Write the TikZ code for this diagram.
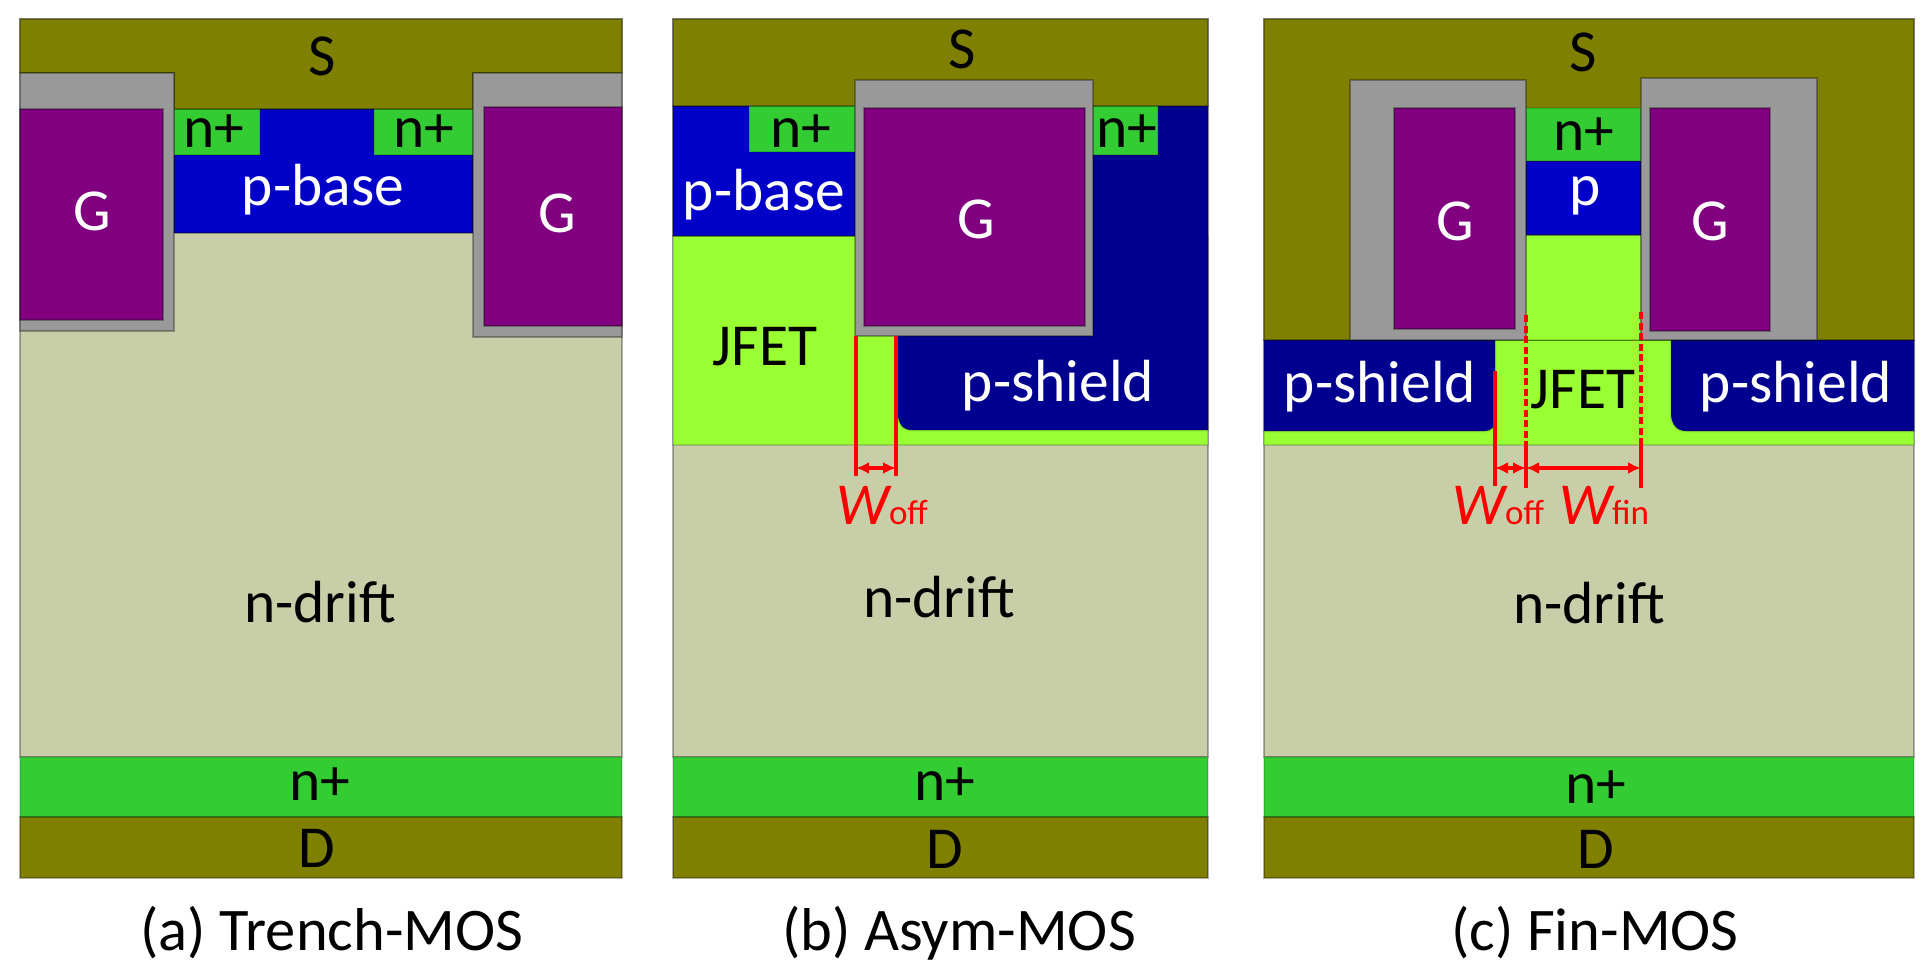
\documentclass[tikz,border=0pt]{standalone}
\usepackage{fontspec}
\setmainfont{Carlito}
\usetikzlibrary{arrows.meta}
\definecolor{metalc}{HTML}{808000}
\definecolor{oxidec}{HTML}{999999}
\definecolor{gatec}{HTML}{800080}
\definecolor{basec}{HTML}{0000C8}
\definecolor{shieldc}{HTML}{000090}
\definecolor{nplusc}{HTML}{33CC33}
\definecolor{jfetc}{HTML}{99FF33}
\definecolor{driftc}{HTML}{C7CEA8}
\definecolor{redc}{HTML}{FF0000}
\tikzset{
  region/.style={draw=black,draw opacity=.3,line width=2.8pt,line join=miter},
  metal/.style={region,fill=metalc},
  oxide/.style={region,fill=oxidec},
  gate/.style={region,fill=gatec},
  pbase/.style={region,fill=basec},
  pshield/.style={region,fill=shieldc,draw opacity=.1},
  nplus/.style={region,fill=nplusc,draw opacity=.12},
  jfet/.style={region,fill=jfetc,draw opacity=.15},
  drift/.style={region,fill=driftc},
  lab/.style={anchor=base,inner sep=0pt,font=\fontsize{59.5}{61}\selectfont},
  capt/.style={anchor=base,inner sep=0pt,text=black,font=\fontsize{60.5}{62}\selectfont},
  dark/.style={lab,text=black},
  light/.style={lab,text=white},
  wlab/.style={lab,text=redc},
  dimline/.style={draw=redc,line width=3.6pt},
  dimdash/.style={draw=redc,line width=4pt,dash pattern=on 7pt off 3.5pt},
  dimarrow/.style={draw=redc,line width=3.4pt,{Latex[length=13pt,width=12pt]}-{Latex[length=13pt,width=12pt]}},
}
\newcommand{\wsub}[1]{{\itshape W}{\fontsize{35}{36}\selectfont #1}}
\begin{document}
\begin{tikzpicture}[x=1pt,y=-1pt]
\useasboundingbox (0,0) rectangle (1928,971);
\fill[white] (0,0) rectangle (1928,971);
% ---------- panel (a)
\path[drift] (20,19) rectangle (622,757);
\path[pbase] (174,109) rectangle (473,233);
\path[nplus] (174,109) rectangle (260,155);
\path[nplus] (374,109) rectangle (473,155);
\path[metal] (20,19) -- (622,19) -- (622,73) -- (473,73) -- (473,109) -- (174,109) -- (174,73) -- (20,73) -- cycle;
\path[oxide] (20,73) rectangle (174,331);
\path[gate] (20,109) rectangle (163,320);
\path[oxide] (473,73) rectangle (622,337);
\path[gate] (484,107) rectangle (622,326);
\path[nplus] (20,757) rectangle (622,817);
\path[metal] (20,817) rectangle (622,878);
\node[dark]  (aS)  at (322,76) {S};
\node[light] (aG1) at (92,230) {G};
\node[light] (aG2) at (557,232) {G};
\node[dark]  (an1) at (214,148) {n+};
\node[dark]  (an2) at (424,148) {n+};
\node[light] (ab)  at (323,205) {p-base};
\node[dark]  (ad)  at (320,622) {n-drift};
\node[dark]  (an3) at (320,800) {n+};
\node[dark]  (aD)  at (317,867) {D};
\node[capt]  (acap) at (332,950) {(a) Trench-MOS};
% ---------- panel (b)
\path[drift] (673,19) rectangle (1208,757);
\path[jfet] (673,236) rectangle (1208,445);
\path[pbase] (673,106) rectangle (855,236);
\path[nplus] (749,106) rectangle (855,152);
\path[pshield] (897,330) -- (897,412) .. controls (899,424) and (902,430) .. (912,430) -- (1208,430) -- (1208,106) -- (1093,106) -- (1093,330) -- cycle;
\path[nplus] (1093,106) rectangle (1158,155);
\path[metal] (673,19) rectangle (1208,106);
\path[oxide] (855,80) rectangle (1093,336);
\path[gate] (864,108) rectangle (1085,326);
\path[nplus] (673,757) rectangle (1208,817);
\path[metal] (673,817) rectangle (1208,878);
\coordinate (bo1) at (856,336);
\coordinate (bo2) at (856,476);
\coordinate (bo3) at (896,336);
\coordinate (bo4) at (896,476);
\coordinate (ba1) at (856,468);
\coordinate (ba2) at (896,468);
\draw[dimline] (bo1) -- (bo2);
\draw[dimline] (bo3) -- (bo4);
\draw[dimarrow] (ba1) -- (ba2);
\node[dark]  (bS)  at (962,69) {S};
\node[light] (bG)  at (976,238) {G};
\node[dark]  (bn1) at (801,148) {n+};
\node[dark]  (bn2) at (1127,148) {n+};
\node[light] (bb)  at (764,210) {p-base};
\node[dark]  (bJ)  at (765,365) {JFET};
\node[light] (bs)  at (1058,401) {p-shield};
\node[wlab]  (bW)  at (882,524) {\wsub{off}};
\node[dark]  (bd)  at (939,617) {n-drift};
\node[dark]  (bn3) at (945,800) {n+};
\node[dark]  (bD)  at (945,868) {D};
\node[capt]  (bcap) at (959,950) {(b) Asym-MOS};
% ---------- panel (c)
\path[drift] (1264,19) rectangle (1914,757);
\path[jfet] (1264,340) rectangle (1914,445);
\path[pshield] (1264,340) -- (1495,340) -- (1495,420) .. controls (1495,427) and (1491,431) .. (1485,431) -- (1264,431) -- cycle;
\path[pshield] (1914,340) -- (1671,340) -- (1671,415) .. controls (1672,425) and (1677,431) .. (1686,431) -- (1914,431) -- cycle;
\path[metal] (1264,19) rectangle (1914,340);
\path[jfet] (1526,235) rectangle (1641,340);
\path[pbase] (1526,161) rectangle (1641,235);
\path[nplus] (1526,108) rectangle (1641,161);
\path[oxide] (1350,80) rectangle (1526,340);
\path[oxide] (1641,78) rectangle (1817,340);
\path[gate] (1394,108) rectangle (1515,329);
\path[gate] (1650,108) rectangle (1770,331);
\path[nplus] (1264,757) rectangle (1914,817);
\path[metal] (1264,817) rectangle (1914,878);
\coordinate (co1) at (1495,371);
\coordinate (co2) at (1495,486);
\coordinate (cd1) at (1526,315);
\coordinate (cd2) at (1526,445);
\coordinate (co3) at (1526,488);
\coordinate (cd3) at (1641,312);
\coordinate (cd4) at (1641,445);
\coordinate (co4) at (1641,488);
\coordinate (ca1) at (1495,468);
\coordinate (ca2) at (1526,468);
\coordinate (ca3) at (1641,468);
\draw[dimline] (co1) -- (co2);
\draw[dimdash] (cd1) -- (cd2);
\draw[dimline] (cd2) -- (co3);
\draw[dimdash] (cd3) -- (cd4);
\draw[dimline] (cd4) -- (co4);
\draw[dimarrow] (ca1) -- (ca2);
\draw[dimarrow] (ca2) -- (ca3);
\node[dark]  (cS)  at (1583,72) {S};
\node[light] (cG1) at (1455,240) {G};
\node[light] (cG2) at (1710,240) {G};
\node[dark]  (cn1) at (1584,151) {n+};
\node[light] (cp)  at (1585,205) {p};
\node[dark]  (cJ)  at (1583,408) {JFET};
\node[light] (cs1) at (1380,402) {p-shield};
\node[light] (cs2) at (1796,402) {p-shield};
\node[wlab]  (cW1) at (1498,524) {\wsub{off}};
\node[wlab]  (cW2) at (1604,524) {\wsub{fin}};
\node[dark]  (cd)  at (1589,623) {n-drift};
\node[dark]  (cn3) at (1596,803) {n+};
\node[dark]  (cD)  at (1596,868) {D};
\node[capt]  (ccap) at (1595,950) {(c) Fin-MOS};
\end{tikzpicture}
\end{document}
